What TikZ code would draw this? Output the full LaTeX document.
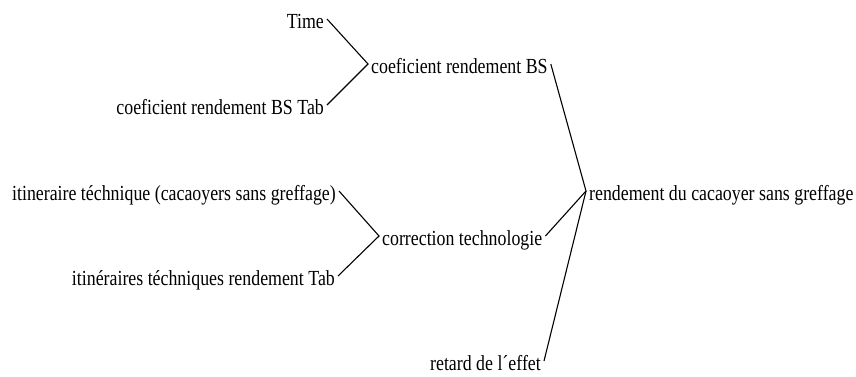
\documentclass[tikz,border=0pt]{standalone}
\usepackage{fontspec}
\setmainfont{Liberation Serif}[FakeStretch=0.83]
\begin{document}
\begin{tikzpicture}[x=1pt,y=-1pt,
  var/.style={inner xsep=3pt, inner ysep=0pt, text height=18pt, text depth=0pt,
    font=\fontsize{21.5}{25}\selectfont},
  link/.style={line width=1.1pt, line join=miter}]
\useasboundingbox (0,0) rectangle (856,376);

% variables
\node[var, anchor=base east] (time) at (327,28) {Time};
\node[var, anchor=base east] (coeftab) at (327,114) {coeficient rendement BS Tab};
\node[var, anchor=base west] (coefbs) at (368,73) {coeficient rendement BS};
\node[var, anchor=base east] (itin) at (339,200) {itineraire téchnique (cacaoyers sans greffage)};
\node[var, anchor=base east] (itintab) at (338,285) {itinéraires téchniques rendement Tab};
\node[var, anchor=base west] (correction) at (379,245) {correction technologie};
\node[var, anchor=base west] (rendement) at (586,200) {rendement du cacaoyer sans greffage};
\node[var, anchor=base east] (retard) at (544,370) {retard de l´effet};

% tree links
\draw[link] (time.east) -- (coefbs.west) -- (coeftab.east);
\draw[link] (itin.east) -- (correction.west) -- (itintab.east);
\draw[link] (coefbs.east) -- (rendement.west) -- (correction.east);
\draw[link] (rendement.west) -- (retard.east);
\end{tikzpicture}
\end{document}
